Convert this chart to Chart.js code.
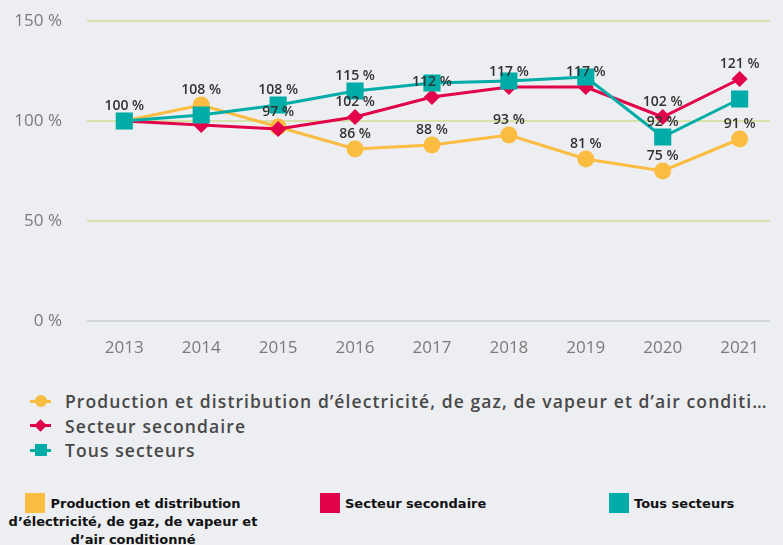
<!DOCTYPE html>
<html lang="fr">
<head>
  <meta charset="UTF-8" />
  <title>Évolution par secteur (base 100 en 2013)</title>
  <style>
    body {
      margin: 0;
      width: 783px;
      height: 545px;
      background: #eceef1;
      position: relative;
      overflow: hidden;
      font-family: "Open Sans", sans-serif;
    }

    #graphique {
      position: absolute;
      left: 0;
      top: 0;
    }

    #legende1 {
      position: absolute;
      left: 30px;
      top: 389px;
    }

    #legende1 .ligne {
      height: 24.5px;
      display: flex;
      align-items: center;
      font-size: 17.5px;
      font-weight: 600;
      letter-spacing: 1.1px;
      color: #484848;
    }

    #legende1 .texte {
      white-space: nowrap;
      overflow: hidden;
      text-overflow: ellipsis;
      max-width: 708px;
    }

    .symbole {
      position: relative;
      width: 21px;
      height: 3px;
      margin-right: 14px;
    }

    .symbole i {
      position: absolute;
      left: 50%;
      top: 50%;
    }

    .rond i { width: 12px; height: 12px; margin: -6px 0 0 -6px; border-radius: 50%; }
    .losange i { width: 9px; height: 9px; margin: -4.5px 0 0 -4.5px; transform: rotate(45deg); }
    .carre i { width: 12px; height: 12px; margin: -6px 0 0 -6px; }

    .item2 {
      position: absolute;
      font-family: "DejaVu Sans", sans-serif;
      font-weight: bold;
      font-size: 13px;
      line-height: 18px;
      color: #111;
    }

    .item2 .boite {
      display: inline-block;
      width: 20px;
      height: 20px;
      vertical-align: -5px;
      margin-right: 5px;
    }
  </style>
</head>
<body>

  <canvas id="graphique" width="783" height="372"></canvas>
  <div id="legende1"></div>
  <div id="legende2"></div>

  <script src="https://cdn.jsdelivr.net/npm/chart.js"></script>
  <script>
    const annees = [2013, 2014, 2015, 2016, 2017, 2018, 2019, 2020, 2021];

    const nomsSeries = [
      "Production et distribution d’électricité, de gaz, de vapeur et d’air conditionné",
      "Secteur secondaire",
      "Tous secteurs"
    ];
    const couleurs = ["#fbbc42", "#e2044b", "#00aca7"];

    const energie = [100, 108, 97, 86, 88, 93, 81, 75, 91];
    const secondaire = [100, 98, 96, 102, 112, 117, 117, 102, 121];
    const tous = [100, 103, 108, 115, 119, 120, 122, 92, 111];

    // étiquettes affichées (les autres sont masquées car elles se chevauchent)
    const etiqEnergie = [true, true, true, true, true, true, true, true, true];
    const etiqSecondaire = [false, false, false, true, true, true, true, true, true];
    const etiqTous = [false, false, true, true, false, false, false, true, false];

    const graduationsY = [0, 50, 100, 150];

    function points(valeurs) {
      return valeurs.map((v, i) => ({ x: annees[i], y: v }));
    }

    const etiquettes = {
      id: 'etiquettes',
      afterDatasetsDraw(chart) {
        const ctx = chart.ctx;
        ctx.save();
        ctx.font = '600 14px "Open Sans"';
        ctx.fillStyle = '#333';
        ctx.textAlign = 'center';
        ctx.textBaseline = 'middle';
        chart.data.datasets.forEach((ds, di) => {
          const meta = chart.getDatasetMeta(di);
          meta.data.forEach((pt, i) => {
            if (!ds.etiquettes[i]) return;
            ctx.fillText(Math.round(ds.data[i].y) + ' %', pt.x, pt.y - 15);
          });
        });
        ctx.restore();
      }
    };

    const ctx = document.getElementById('graphique').getContext('2d');
    new Chart(ctx, {
      type: 'line',
      data: {
        datasets: [
          {
            label: nomsSeries[0],
            data: points(energie),
            etiquettes: etiqEnergie,
            borderColor: couleurs[0],
            backgroundColor: couleurs[0],
            borderWidth: 3,
            pointStyle: 'circle',
            pointRadius: 7,
            order: 2
          },
          {
            label: nomsSeries[1],
            data: points(secondaire),
            etiquettes: etiqSecondaire,
            borderColor: couleurs[1],
            backgroundColor: couleurs[1],
            borderWidth: 3,
            pointStyle: 'rectRot',
            pointRadius: 6,
            order: 1
          },
          {
            label: nomsSeries[2],
            data: points(tous),
            etiquettes: etiqTous,
            borderColor: couleurs[2],
            backgroundColor: couleurs[2],
            borderWidth: 3,
            pointStyle: 'rect',
            pointRadius: 10,
            order: 0
          }
        ]
      },
      options: {
        responsive: false,
        animation: false,
        layout: { padding: { top: 21, right: 0, left: 0, bottom: 0 } },
        plugins: {
          legend: { display: false },
          tooltip: { enabled: false }
        },
        scales: {
          x: {
            type: 'linear',
            min: 2012.515,
            max: 2021.395,
            afterBuildTicks: scale => { scale.ticks = annees.map(a => ({ value: a })); },
            afterFit: scale => { scale.height = 51; },
            grid: { display: false },
            border: { display: false },
            ticks: {
              padding: 9,
              color: '#7a7a7a',
              font: { family: 'Open Sans', size: 17 },
              callback: v => String(v)
            }
          },
          y: {
            min: 0,
            max: 150,
            afterBuildTicks: scale => { scale.ticks = graduationsY.map(v => ({ value: v })); },
            afterFit: scale => { scale.width = 87; },
            border: { display: false },
            grid: {
              drawTicks: true,
              tickLength: 25,
              tickColor: 'rgba(0,0,0,0)',
              lineWidth: 2,
              color: c => c.tick.value === 0 ? '#cfd8d4' : '#d6e2aa'
            },
            ticks: {
              padding: 0,
              color: '#7a7a7a',
              font: { family: 'Open Sans', size: 17 },
              callback: v => v + ' %'
            }
          }
        }
      },
      plugins: [etiquettes]
    });

    // légende du graphique
    const formes = ['rond', 'losange', 'carre'];
    const leg1 = document.getElementById('legende1');
    nomsSeries.forEach((nom, i) => {
      const ligne = document.createElement('div');
      ligne.className = 'ligne';
      ligne.innerHTML =
        `<span class="symbole ${formes[i]}" style="background:${couleurs[i]}"><i style="background:${couleurs[i]}"></i></span>` +
        `<span class="texte">${nom}</span>`;
      leg1.appendChild(ligne);
    });

    // seconde légende
    const positions2 = [
      { left: 0, top: 493, width: 266, align: 'center' },
      { left: 320, top: 493, width: 200, align: 'left' },
      { left: 609, top: 493, width: 170, align: 'left' }
    ];
    const leg2 = document.getElementById('legende2');
    nomsSeries.forEach((nom, i) => {
      const p = positions2[i];
      const item = document.createElement('div');
      item.className = 'item2';
      item.style.left = p.left + 'px';
      item.style.top = p.top + 'px';
      item.style.width = p.width + 'px';
      item.style.textAlign = p.align;
      item.innerHTML = `<span class="boite" style="background:${couleurs[i]}"></span>${nom}`;
      leg2.appendChild(item);
    });
  </script>
</body>
</html>
